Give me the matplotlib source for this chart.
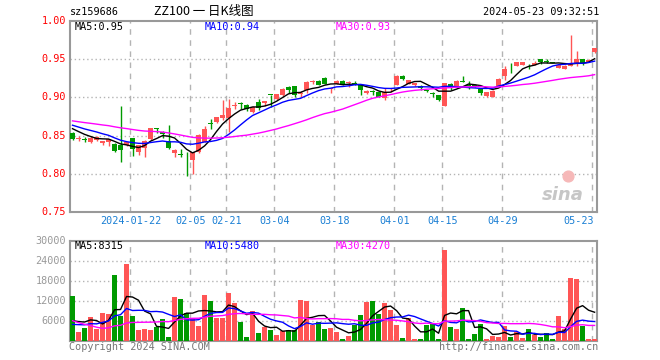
import matplotlib as mpl
mpl.use('Agg')
import matplotlib.pyplot as plt
import numpy as np
import pandas as pd

plt.rcParams['font.family'] = ['DejaVu Sans Mono', 'Noto Sans CJK SC']

# daily candles, 2024-01-08 .. 2024-05-23 (88 trading days)
opens = [0.854, 0.8458, 0.8452, 0.8416, 0.844, 0.8398, 0.842, 0.8394, 0.8372, 0.8372,
         0.8464, 0.8284, 0.8337, 0.8455, 0.8592, 0.8548, 0.8424, 0.8271, 0.8255, 0.8208,
         0.8187, 0.8284, 0.8416, 0.866, 0.8675, 0.8732, 0.8723, 0.8888, 0.8912, 0.8894,
         0.8811, 0.8938, 0.893, 0.9028, 0.8978, 0.903, 0.9136, 0.9149, 0.9038, 0.9096,
         0.9204, 0.9215, 0.9254, 0.9101, 0.9171, 0.9215, 0.9186, 0.919, 0.9158, 0.906,
         0.9068, 0.907, 0.8996, 0.9103, 0.9162, 0.928, 0.9175, 0.9153, 0.915, 0.9082,
         0.9052, 0.903, 0.8886, 0.9175, 0.914, 0.9199, 0.9152, 0.9162, 0.9105, 0.9013,
         0.9009, 0.914, 0.9272, 0.9327, 0.9412, 0.9417, 0.9405, 0.9425, 0.95, 0.9462,
         0.9445, 0.9386, 0.9368, 0.9412, 0.9434, 0.95, 0.946, 0.9588]
highs = [0.855, 0.849, 0.848, 0.849, 0.85, 0.843, 0.846, 0.84, 0.8886, 0.842,
         0.847, 0.838, 0.844, 0.86, 0.8595, 0.856, 0.8635, 0.833, 0.833, 0.8284,
         0.829, 0.852, 0.8622, 0.8714, 0.874, 0.8964, 0.8978, 0.894, 0.894, 0.891,
         0.888, 0.8978, 0.8955, 0.9028, 0.9045, 0.912, 0.914, 0.915, 0.908, 0.9205,
         0.9228, 0.922, 0.926, 0.9125, 0.9218, 0.922, 0.9205, 0.921, 0.916, 0.91,
         0.91, 0.9075, 0.912, 0.9114, 0.9285, 0.9285, 0.9222, 0.9186, 0.9155, 0.9095,
         0.9066, 0.9035, 0.919, 0.919, 0.9218, 0.928, 0.9206, 0.9175, 0.911, 0.9072,
         0.9089, 0.9245, 0.941, 0.945, 0.9462, 0.9458, 0.9438, 0.9478, 0.9502, 0.95,
         0.9447, 0.9419, 0.9414, 0.9807, 0.9596, 0.9502, 0.9492, 0.9638]
lows = [0.844, 0.843, 0.842, 0.84, 0.843, 0.838, 0.837, 0.828, 0.8152, 0.836,
        0.824, 0.825, 0.8227, 0.844, 0.853, 0.847, 0.833, 0.8227, 0.822, 0.7977,
        0.7999, 0.827, 0.841, 0.8591, 0.866, 0.87, 0.8547, 0.885, 0.885, 0.8825,
        0.88, 0.8833, 0.888, 0.887, 0.896, 0.902, 0.905, 0.9008, 0.9, 0.905,
        0.9175, 0.916, 0.9166, 0.906, 0.917, 0.9153, 0.913, 0.9155, 0.9026, 0.904,
        0.9026, 0.9004, 0.896, 0.907, 0.916, 0.9225, 0.917, 0.915, 0.91, 0.9066,
        0.9, 0.8955, 0.888, 0.9097, 0.9138, 0.9195, 0.911, 0.913, 0.9026, 0.9005,
        0.9, 0.9138, 0.922, 0.9318, 0.941, 0.9415, 0.9368, 0.9422, 0.943, 0.9443,
        0.944, 0.9384, 0.9366, 0.9403, 0.9412, 0.9416, 0.9458, 0.957]
closes = [0.845, 0.8462, 0.8448, 0.8473, 0.848, 0.8424, 0.845, 0.8297, 0.8306, 0.8416,
          0.8328, 0.8372, 0.8424, 0.8596, 0.8588, 0.8517, 0.8337, 0.8306, 0.8245, 0.8202,
          0.8284, 0.8504, 0.8591, 0.8654, 0.8736, 0.8767, 0.8855, 0.8892, 0.8908, 0.8842,
          0.8868, 0.8855, 0.8952, 0.9024, 0.9039, 0.911, 0.9096, 0.9026, 0.9042, 0.9202,
          0.9208, 0.9162, 0.9166, 0.9123, 0.9215, 0.9153, 0.919, 0.916, 0.9096, 0.9087,
          0.9064, 0.9004, 0.9066, 0.9107, 0.9272, 0.924, 0.9219, 0.9184, 0.912, 0.9078,
          0.9048, 0.8965, 0.9184, 0.9118, 0.9215, 0.9195, 0.9148, 0.914, 0.9061, 0.907,
          0.9087, 0.9241, 0.9368, 0.9323, 0.946, 0.9456, 0.9401, 0.9452, 0.9465, 0.9458,
          0.9442, 0.9417, 0.9412, 0.9434, 0.95, 0.9447, 0.949, 0.9636]
volumes = [13400, 2600, 3800, 7000, 3500, 8200, 8000, 19700, 7400, 23000,
           7400, 3200, 3500, 3200, 4200, 6400, 1100, 13100, 12500, 8200,
           6400, 4400, 13700, 11900, 6800, 6800, 14300, 11300, 5600, 1100,
           8900, 2300, 4100, 3200, 1700, 2900, 3200, 3200, 12200, 11900,
           4700, 5600, 3500, 3800, 2600, 500, 1400, 4700, 7700, 11600,
           11900, 8000, 11300, 9200, 4700, 800, 6800, 500, 500, 4700,
           5000, 500, 27200, 4100, 3500, 9800, 500, 2000, 5000, 500,
           1400, 1100, 4400, 1100, 2600, 800, 3500, 1700, 1100, 2300,
           500, 7400, 3500, 18800, 18500, 4400, 500, 500]

# sessions before the window, only feed the moving averages
prior_close = [0.880, 0.878, 0.876, 0.879, 0.875, 0.873, 0.874, 0.870, 0.872, 0.869,
               0.871, 0.868, 0.870, 0.872, 0.869, 0.867, 0.870, 0.868, 0.866, 0.873,
               0.870, 0.869, 0.867, 0.868, 0.866, 0.865, 0.863, 0.861, 0.861]
prior_vol = [20000, 18500, 19000, 17500, 19000, 2800, 2300, 2100, 2600, 2500,
             2200, 2400, 2700, 2300, 2500, 2600, 2200, 2400, 2600, 2700,
             3500, 4200, 3600, 4100, 3600, 3900, 4500, 3800, 4400]

date_ticks = {10: '2024-01-22', 20: '02-05', 26: '02-21', 34: '03-04', 44: '03-18',
              54: '04-01', 62: '04-15', 72: '04-29', 87: '05-23'}
price_ticks = [1.00, 0.95, 0.90, 0.85, 0.80, 0.75]
vol_ticks = [30000, 24000, 18000, 12000, 6000]
# readouts as printed on the chart
price_ma_labels = ['MA5:0.95', 'MA10:0.94', 'MA30:0.93']
vol_ma_labels = ['MA5:8315', 'MA10:5480', 'MA30:4270']

RED = '#ff5555'
GREEN = '#009a00'
FRAME = '#999999'
GRID = '#b4b4b4'

n = len(closes)
x = np.arange(n)
o = np.array(opens)
h = np.array(highs)
l = np.array(lows)
c = np.array(closes)
v = np.array(volumes)
up = c >= o

all_c = pd.Series(prior_close + closes)
all_v = pd.Series(prior_vol + volumes)
k = len(prior_close)
ma_c = {w: all_c.rolling(w).mean().values[k:] for w in (5, 10, 30)}
ma_v = {w: all_v.rolling(w).mean().values[k:] for w in (5, 10, 30)}
ma_colors = {5: 'black', 10: '#0000ff', 30: '#ff00ff'}

W, H = 660, 360
fig = plt.figure(figsize=(W / 100, H / 100), dpi=100)
fig.patch.set_facecolor('white')


def box(x0, y0, x1, y1):
    # pixel box (top-left origin) -> figure fraction rect
    return [x0 / W, 1 - y1 / H, (x1 - x0) / W, (y1 - y0) / H]


def ftext(px, py, s, **kw):
    fig.text(px / W, 1 - py / H, s, va='center', **kw)


ax = fig.add_axes(box(70.3, 20.5, 597, 212.3))
axv = fig.add_axes(box(70.3, 240.7, 597, 340.7))
xlim = (-0.37, n - 0.6)

for a in (ax, axv):
    a.set_xlim(*xlim)
    a.set_xticks([])
    a.set_yticks([])
    for s in a.spines.values():
        s.set_color(FRAME)
        s.set_linewidth(1.5)
    for i in date_ticks:
        a.axvline(i - 0.35, color=GRID, lw=1, ls=(0, (4, 4)), zorder=0)

# price panel
ax.set_ylim(0.75, 1.00)
for p in price_ticks[1:-1]:
    ax.axhline(p, color=GRID, lw=1, ls=(0, (1, 2)), zorder=0)

cols = np.where(up, RED, GREEN)
ax.vlines(x, l, h, colors=cols, lw=1, zorder=2)
body = np.maximum(np.abs(c - o), 0.0012)
ax.bar(x, body, bottom=np.minimum(o, c), width=0.8, color=cols, lw=0, zorder=3)
for w in (5, 10, 30):
    ax.plot(x, ma_c[w], color=ma_colors[w], lw=1, zorder=4)

ax.text(0.935, 0.09, 'sina', transform=ax.transAxes, ha='center', va='center',
        fontsize=13, color='#c6c6c6', style='italic', fontweight='bold',
        family='DejaVu Sans', zorder=1)
ax.scatter([0.945], [0.19], s=60, color='#f6b8b8', transform=ax.transAxes, zorder=1)

# volume panel
axv.set_ylim(0, 30000)
for t in vol_ticks[1:]:
    axv.axhline(t, color=GRID, lw=1, ls=(0, (1, 2)), zorder=0)
axv.bar(x, v, width=0.84, color=cols, lw=0, zorder=3)
for w in (5, 10, 30):
    axv.plot(x, ma_v[w], color=ma_colors[w], lw=1, zorder=4)

fs = 7.3
# axis labels
for p in price_ticks:
    py = 212.3 - (p - 0.75) / 0.25 * 191.8
    ftext(66, py, f'{p:.2f}', ha='right', color='#ff0000', fontsize=fs)
for t in vol_ticks:
    py = 340.7 - t / 30000 * 100
    ftext(66, py, str(t), ha='right', color='#999999', fontsize=fs)
for i, lab in date_ticks.items():
    px = 70.3 + (i - 0.35 - xlim[0]) / (xlim[1] - xlim[0]) * (597 - 70.3)
    ha = 'right' if i == n - 1 else 'center'
    ftext(px + (2 if ha == 'right' else 0), 221.5, lab, ha=ha, color='#1a7fd4', fontsize=fs)

# header
ftext(70, 12, 'sz159686', ha='left', color='black', fontsize=fs)
ftext(204, 12, 'ZZ100 一 日K线图', ha='center', color='black', fontsize=9,
      family=['Noto Sans CJK SC'])
ftext(599, 12, '2024-05-23 09:32:51', ha='right', color='black', fontsize=fs)

# MA readouts
for px, lab, w in zip((74.5, 205, 336), price_ma_labels, (5, 10, 30)):
    ftext(px, 26.5, lab, ha='left', color=ma_colors[w], fontsize=fs)
for px, lab, w in zip((74.5, 205, 336), vol_ma_labels, (5, 10, 30)):
    ftext(px, 246, lab, ha='left', color=ma_colors[w], fontsize=fs)

ftext(69, 346.5, 'Copyright 2024 SINA.COM', ha='left', color='#777777', fontsize=fs)
ftext(598, 346.5, 'http://finance.sina.com.cn', ha='right', color='#777777', fontsize=fs)

fig.savefig('out.png', dpi=100)
